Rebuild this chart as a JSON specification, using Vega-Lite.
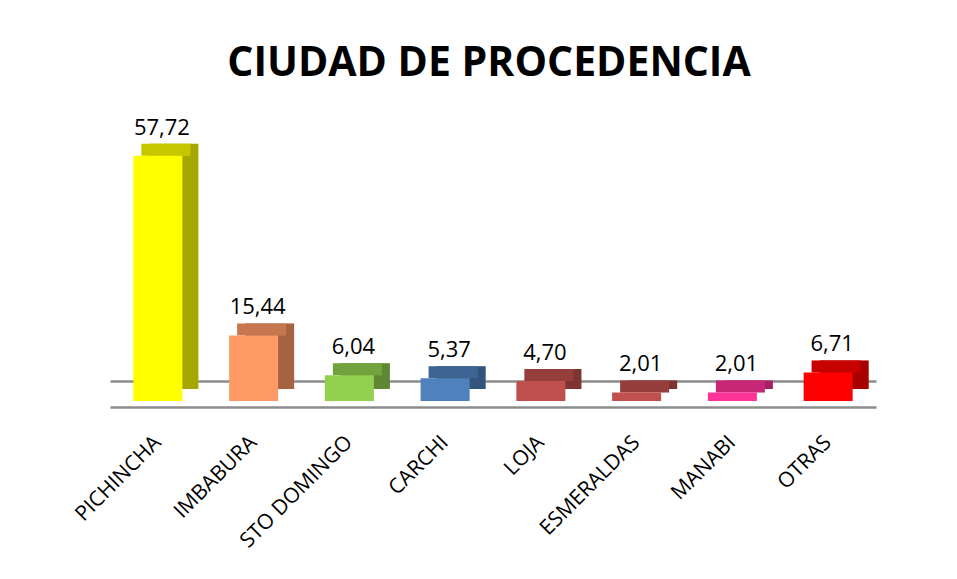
{
  "$schema": "https://vega.github.io/schema/vega-lite/v6.json",
  "width": 766,
  "height": 255,
  "autosize": "none",
  "padding": {"left": 110, "top": 146, "right": 81, "bottom": 178},
  "background": "white",
  "config": {
    "view": {"stroke": null}
  },
  "title": {
    "text": "CIUDAD DE PROCEDENCIA",
    "font": "Open Sans",
    "fontSize": 41,
    "fontWeight": "bold",
    "color": "black",
    "anchor": "middle",
    "frame": "group",
    "baseline": "alphabetic",
    "offset": 0,
    "dx": -4
  },
  "data": {
    "values": [
      {"ciudad": "PICHINCHA", "pct": 57.72, "etiqueta": "57,72"},
      {"ciudad": "IMBABURA", "pct": 15.44, "etiqueta": "15,44"},
      {"ciudad": "STO DOMINGO", "pct": 6.04, "etiqueta": "6,04"},
      {"ciudad": "CARCHI", "pct": 5.37, "etiqueta": "5,37"},
      {"ciudad": "LOJA", "pct": 4.70, "etiqueta": "4,70"},
      {"ciudad": "ESMERALDAS", "pct": 2.01, "etiqueta": "2,01"},
      {"ciudad": "MANABI", "pct": 2.01, "etiqueta": "2,01"},
      {"ciudad": "OTRAS", "pct": 6.71, "etiqueta": "6,71"}
    ]
  },
  "encoding": {
    "x": {
      "field": "ciudad", "type": "nominal", "sort": null,
      "scale": {"paddingInner": 0.488, "paddingOuter": 0.244},
      "axis": {
        "title": null, "ticks": false, "domain": true,
        "domainColor": "#8c8c8c", "domainWidth": 2.5, "offset": 6,
        "labelAngle": -45, "labelAlign": "right", "labelBaseline": "middle",
        "labelPadding": 32, "labelFont": "Open Sans", "labelFontSize": 21,
        "labelColor": "black", "labelLimit": 400
      }
    },
    "y": {
      "field": "pct", "type": "quantitative",
      "scale": {"domain": [0, 60], "nice": false, "zero": true},
      "axis": {
        "title": null, "values": [4.7], "grid": true, "gridColor": "#8c8c8c",
        "gridWidth": 2.5, "labels": false, "ticks": false, "domain": false
      }
    }
  },
  "layer": [
    {
      "mark": {"type": "bar", "xOffset": 16, "yOffset": -12},
      "encoding": {
        "color": {
          "field": "ciudad", "type": "nominal", "legend": null,
          "scale": {
            "domain": ["PICHINCHA", "IMBABURA", "STO DOMINGO", "CARCHI", "LOJA", "ESMERALDAS", "MANABI", "OTRAS"],
            "range": ["#FFFF00", "#FF9966", "#92D050", "#4F81BD", "#C0504D", "#C0504D", "#FF3399", "#FF0000"]
          }
        }
      }
    },
    {
      "mark": {"type": "bar", "xOffset": 16, "yOffset": -12, "color": "black", "opacity": 0.35},
      "encoding": {}
    },
    {
      "mark": {"type": "tick", "xOffset": 8, "yOffset": -6, "thickness": 12, "size": 49, "opacity": 1},
      "encoding": {
        "color": {"field": "ciudad", "type": "nominal", "legend": null}
      }
    },
    {
      "mark": {"type": "tick", "xOffset": 8, "yOffset": -6, "thickness": 12, "size": 49, "color": "black", "opacity": 0.22},
      "encoding": {}
    },
    {
      "mark": {"type": "bar"},
      "encoding": {
        "color": {"field": "ciudad", "type": "nominal", "legend": null}
      }
    },
    {
      "mark": {"type": "text", "font": "Open Sans", "fontSize": 22, "color": "black", "baseline": "alphabetic", "dy": -21, "dx": 4},
      "encoding": {
        "text": {"field": "etiqueta", "type": "nominal"}
      }
    }
  ]
}
